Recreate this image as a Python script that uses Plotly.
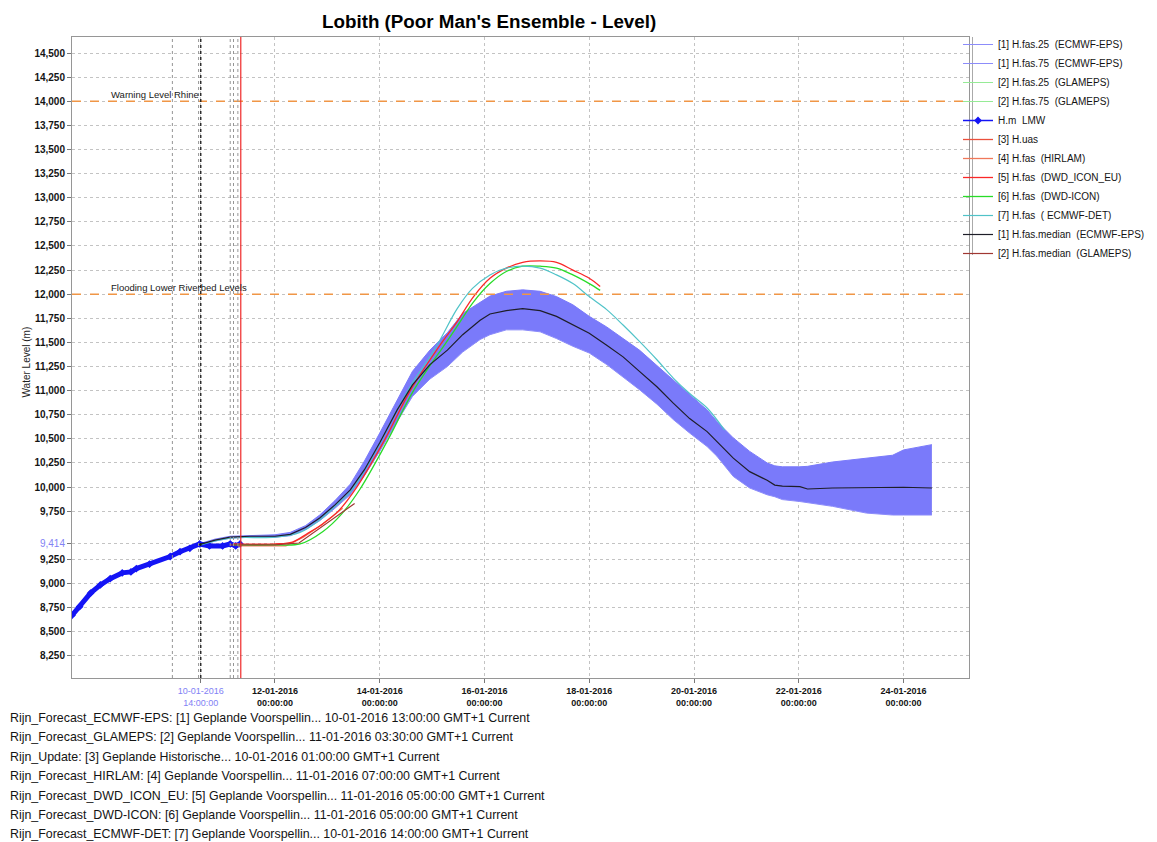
import plotly.graph_objects as go

# ---------------- data ----------------
obs_time = ["2016-01-08 03:00", "2016-01-08 06:30", "2016-01-08 11:30", "2016-01-08 16:00",
            "2016-01-08 20:30", "2016-01-09 02:00", "2016-01-09 06:00", "2016-01-09 08:30",
            "2016-01-09 14:30", "2016-01-10 00:00", "2016-01-10 04:30", "2016-01-10 09:00",
            "2016-01-10 13:30", "2016-01-10 18:00", "2016-01-11 00:00", "2016-01-11 03:30",
            "2016-01-11 06:00", "2016-01-11 08:00"]
obs_level = [8.67, 8.76, 8.90, 8.985, 9.05, 9.11, 9.12, 9.155, 9.20, 9.28, 9.33, 9.365,
             9.41, 9.39, 9.39, 9.41, 9.39, 9.41]

eps_time = ["2016-01-10 13:00", "2016-01-10 20:30", "2016-01-11 03:30", "2016-01-11 12:30",
            "2016-01-12 00:00", "2016-01-12 07:00", "2016-01-12 14:00", "2016-01-12 20:30",
            "2016-01-13 03:30", "2016-01-13 10:30", "2016-01-13 17:00", "2016-01-14 00:00",
            "2016-01-14 08:00", "2016-01-14 15:00", "2016-01-14 23:00", "2016-01-15 07:00",
            "2016-01-15 14:00", "2016-01-15 22:00", "2016-01-16 02:30", "2016-01-16 10:00",
            "2016-01-16 17:30", "2016-01-17 01:30", "2016-01-17 09:00", "2016-01-17 16:30",
            "2016-01-18 00:00", "2016-01-18 08:00", "2016-01-18 15:30", "2016-01-18 23:00",
            "2016-01-19 07:00", "2016-01-19 14:30", "2016-01-19 22:00", "2016-01-20 06:00",
            "2016-01-20 10:30", "2016-01-20 18:00", "2016-01-21 01:30", "2016-01-21 09:30",
            "2016-01-21 13:00", "2016-01-21 16:30", "2016-01-22 00:30", "2016-01-22 04:00",
            "2016-01-22 15:30", "2016-01-23 07:00", "2016-01-23 19:00", "2016-01-24 00:00",
            "2016-01-24 13:00"]
eps_median = [9.40, 9.45, 9.48, 9.49, 9.49, 9.51, 9.58, 9.68, 9.815, 9.97, 10.18, 10.46,
              10.80, 11.06, 11.27, 11.42, 11.58, 11.73, 11.795, 11.83, 11.85, 11.83, 11.77,
              11.68, 11.595, 11.47, 11.35, 11.20, 11.04, 10.87, 10.71, 10.575, 10.47, 10.30,
              10.16, 10.07, 10.02, 10.01, 10.005, 9.98, 9.99, 9.994, 9.998, 9.998, 9.99]
eps_p25 = [9.39, 9.44, 9.47, 9.48, 9.48, 9.495, 9.56, 9.65, 9.78, 9.92, 10.12, 10.37,
           10.68, 10.94, 11.12, 11.25, 11.40, 11.53, 11.58, 11.63, 11.63, 11.61, 11.54,
           11.46, 11.39, 11.27, 11.14, 11.01, 10.86, 10.70, 10.56, 10.42, 10.32, 10.11,
           9.99, 9.92, 9.90, 9.87, 9.85, 9.84, 9.80, 9.73, 9.71, 9.71, 9.71]
eps_p75 = [9.41, 9.46, 9.49, 9.50, 9.505, 9.53, 9.60, 9.71, 9.86, 10.03, 10.27, 10.56,
           10.90, 11.20, 11.42, 11.60, 11.80, 11.91, 11.98, 12.03, 12.045, 12.03, 11.975,
           11.89, 11.77, 11.66, 11.54, 11.42, 11.26, 11.11, 10.96, 10.80, 10.68, 10.51,
           10.37, 10.25, 10.22, 10.21, 10.21, 10.215, 10.26, 10.30, 10.33, 10.385, 10.44]

det_time = ["2016-01-10 14:00", "2016-01-11 03:30", "2016-01-12 00:00", "2016-01-12 11:30",
            "2016-01-12 20:30", "2016-01-13 03:30", "2016-01-13 10:30", "2016-01-13 17:00",
            "2016-01-14 00:00", "2016-01-14 08:00", "2016-01-14 15:00", "2016-01-14 23:00",
            "2016-01-15 03:30", "2016-01-15 11:30", "2016-01-15 18:30", "2016-01-16 02:30",
            "2016-01-16 10:00", "2016-01-16 17:30", "2016-01-17 01:30", "2016-01-17 09:00",
            "2016-01-17 16:30", "2016-01-18 00:00", "2016-01-18 08:00", "2016-01-18 15:30",
            "2016-01-18 23:00", "2016-01-19 07:00", "2016-01-19 14:30", "2016-01-19 22:00",
            "2016-01-20 06:00", "2016-01-20 14:00"]
det_level = [9.40, 9.47, 9.48, 9.53, 9.66, 9.80, 9.95, 10.17, 10.45, 10.80, 11.08, 11.35,
             11.52, 11.85, 12.06, 12.20, 12.27, 12.29, 12.27, 12.20, 12.11, 11.975, 11.84,
             11.68, 11.51, 11.32, 11.13, 10.97, 10.82, 10.59]

icon_eu_time = ["2016-01-11 05:00", "2016-01-12 00:00", "2016-01-12 08:00", "2016-01-12 15:00",
                "2016-01-12 22:00", "2016-01-13 05:00", "2016-01-13 13:30", "2016-01-14 02:30",
                "2016-01-14 14:00", "2016-01-15 04:30", "2016-01-15 11:00", "2016-01-15 19:00",
                "2016-01-16 02:30", "2016-01-16 10:00", "2016-01-16 17:30", "2016-01-17 01:30",
                "2016-01-17 09:00", "2016-01-17 16:30", "2016-01-18 00:00", "2016-01-18 05:00"]
icon_eu_level = [9.41, 9.41, 9.43, 9.52, 9.62, 9.75, 10.00, 10.50, 11.00, 11.50, 11.70,
                 11.975, 12.165, 12.27, 12.33, 12.345, 12.33, 12.25, 12.165, 12.08]

icon_time = ["2016-01-11 05:00", "2016-01-12 00:00", "2016-01-12 11:30", "2016-01-12 22:00",
             "2016-01-13 06:30", "2016-01-13 15:00", "2016-01-14 04:00", "2016-01-14 15:30",
             "2016-01-15 06:30", "2016-01-15 11:00", "2016-01-15 19:00", "2016-01-16 02:30",
             "2016-01-16 10:00", "2016-01-16 17:30", "2016-01-17 01:30", "2016-01-17 09:00",
             "2016-01-17 16:30", "2016-01-18 00:00", "2016-01-18 05:00"]
icon_level = [9.40, 9.40, 9.41, 9.54, 9.72, 9.98, 10.50, 11.00, 11.50, 11.65, 11.92, 12.11,
              12.235, 12.29, 12.29, 12.27, 12.20, 12.11, 12.04]

hirlam_time = ["2016-01-11 07:00", "2016-01-12 00:00", "2016-01-12 05:00", "2016-01-12 13:00",
               "2016-01-12 22:00", "2016-01-13 07:00"]
hirlam_level = [9.39, 9.39, 9.39, 9.48, 9.62, 9.78]

glam_med_time = ["2016-01-11 03:30", "2016-01-12 00:00", "2016-01-12 11:00", "2016-01-12 22:00",
                 "2016-01-13 05:30", "2016-01-13 12:30"]
glam_med_level = [9.40, 9.40, 9.42, 9.60, 9.72, 9.83]

# y ticks: the 9,500 label is replaced by the last observed value 9,414
y_tick_vals = [8.25, 8.5, 8.75, 9.0, 9.25, 9.414, 9.75, 10.0, 10.25, 10.5, 10.75, 11.0, 11.25,
               11.5, 11.75, 12.0, 12.25, 12.5, 12.75, 13.0, 13.25, 13.5, 13.75, 14.0, 14.25, 14.5]
last_obs_value = 9.414
x_tick_vals = ["2016-01-10 14:00", "2016-01-12", "2016-01-14", "2016-01-16", "2016-01-18",
               "2016-01-20", "2016-01-22", "2016-01-24"]
x_tick_text = ["10-01-2016<br>14:00:00", "12-01-2016<br>00:00:00", "14-01-2016<br>00:00:00",
               "16-01-2016<br>00:00:00", "18-01-2016<br>00:00:00", "20-01-2016<br>00:00:00",
               "22-01-2016<br>00:00:00", "24-01-2016<br>00:00:00"]

threshold_levels = [14.0, 12.0]
threshold_names = ["Warning Level Rhine", "Flooding Lower Riverbed Levels"]

grey_forecast_lines = ["2016-01-10 01:00", "2016-01-10 13:00", "2016-01-11 03:30",
                       "2016-01-11 05:00", "2016-01-11 07:00"]
black_forecast_line = "2016-01-10 14:00"
now_line = "2016-01-11 08:20"

footer_lines = [
    "Rijn_Forecast_ECMWF-EPS: [1] Geplande Voorspellin... 10-01-2016 13:00:00 GMT+1 Current",
    "Rijn_Forecast_GLAMEPS: [2] Geplande Voorspellin... 11-01-2016 03:30:00 GMT+1 Current",
    "Rijn_Update: [3] Geplande Historische... 10-01-2016 01:00:00 GMT+1 Current",
    "Rijn_Forecast_HIRLAM: [4] Geplande Voorspellin... 11-01-2016 07:00:00 GMT+1 Current",
    "Rijn_Forecast_DWD_ICON_EU: [5] Geplande Voorspellin... 11-01-2016 05:00:00 GMT+1 Current",
    "Rijn_Forecast_DWD-ICON: [6] Geplande Voorspellin... 11-01-2016 05:00:00 GMT+1 Current",
    "Rijn_Forecast_ECMWF-DET: [7] Geplande Voorspellin... 10-01-2016 14:00:00 GMT+1 Current",
]

# ---------------- layout helpers ----------------
OFF = 8                      # page body margin of the browser
W, H = 1157 - OFF, 842 - OFF
L, R, T, B = 72, 969, 37, 678   # plot area in screenshot pixels
def px_x(x):
    return (x - L) / (R - L)
def px_y(y):
    return (B - y) / (B - T)

FONT = "Liberation Sans"
BLUE_LBL = "rgb(130,130,245)"
OBS_BLUE = "rgb(20,20,245)"
fig = go.Figure()

# ECMWF-EPS band
fig.add_trace(go.Scatter(x=eps_time, y=eps_p25, mode="lines", name="[1] H.fas.25  (ECMWF-EPS)",
                         line=dict(color="rgb(140,140,250)", width=1)))
fig.add_trace(go.Scatter(x=eps_time, y=eps_p75, mode="lines", showlegend=False,
                         line=dict(color="rgb(122,122,250)", width=1),
                         fill="tonexty", fillcolor="rgb(122,122,250)"))
fig.add_trace(go.Scatter(x=[None], y=[None], mode="lines", name="[1] H.fas.75  (ECMWF-EPS)",
                         line=dict(color="rgb(140,140,250)", width=1)))
fig.add_trace(go.Scatter(x=[None], y=[None], mode="lines", name="[2] H.fas.25  (GLAMEPS)",
                         line=dict(color="rgb(150,235,150)", width=1)))
fig.add_trace(go.Scatter(x=[None], y=[None], mode="lines", name="[2] H.fas.75  (GLAMEPS)",
                         line=dict(color="rgb(150,235,150)", width=1)))
fig.add_trace(go.Scatter(x=obs_time, y=obs_level, mode="lines+markers", showlegend=False,
                         line=dict(color=OBS_BLUE, width=5),
                         marker=dict(symbol="diamond", size=6, color=OBS_BLUE)))
fig.add_trace(go.Scatter(x=[None], y=[None], mode="lines+markers", name="H.m  LMW",
                         line=dict(color=OBS_BLUE, width=1.5),
                         marker=dict(symbol="diamond", size=6, color=OBS_BLUE)))
fig.add_trace(go.Scatter(x=[None], y=[None], mode="lines", name="[3] H.uas",
                         line=dict(color="rgb(235,80,60)", width=1.3)))
fig.add_trace(go.Scatter(x=hirlam_time, y=hirlam_level, mode="lines", name="[4] H.fas  (HIRLAM)",
                         line=dict(color="rgb(240,120,90)", width=1.3)))
fig.add_trace(go.Scatter(x=icon_eu_time, y=icon_eu_level, mode="lines", name="[5] H.fas  (DWD_ICON_EU)",
                         line=dict(color="rgb(250,40,40)", width=1.3, shape="spline")))
fig.add_trace(go.Scatter(x=icon_time, y=icon_level, mode="lines", name="[6] H.fas  (DWD-ICON)",
                         line=dict(color="rgb(40,220,40)", width=1.3, shape="spline")))
fig.add_trace(go.Scatter(x=det_time, y=det_level, mode="lines", name="[7] H.fas  ( ECMWF-DET)",
                         line=dict(color="rgb(80,195,200)", width=1.2, shape="spline")))
fig.add_trace(go.Scatter(x=eps_time, y=eps_median, mode="lines", name="[1] H.fas.median  (ECMWF-EPS)",
                         line=dict(color="rgb(30,30,40)", width=1.2)))
fig.add_trace(go.Scatter(x=glam_med_time, y=glam_med_level, mode="lines", name="[2] H.fas.median  (GLAMEPS)",
                         line=dict(color="rgb(160,55,50)", width=1.2)))

shapes = []
for lv in threshold_levels:
    shapes.append(dict(type="line", xref="paper", x0=0, x1=1, yref="y", y0=lv, y1=lv,
                       line=dict(color="rgb(240,150,70)", width=1.5, dash="dash")))
for t in grey_forecast_lines:
    shapes.append(dict(type="line", xref="x", x0=t, x1=t, yref="paper", y0=0, y1=1,
                       line=dict(color="rgb(150,150,150)", width=1, dash="dot")))
shapes.append(dict(type="line", xref="x", x0=black_forecast_line, x1=black_forecast_line,
                   yref="paper", y0=0, y1=1, line=dict(color="rgb(20,20,20)", width=1.3, dash="dot")))
shapes.append(dict(type="line", xref="x", x0=now_line, x1=now_line, yref="paper", y0=0, y1=1,
                   line=dict(color="rgb(240,40,40)", width=1.2)))
# legend panel border
shapes.append(dict(type="line", xref="paper", x0=px_x(972.5), x1=px_x(972.5), yref="paper",
                   y0=px_y(255), y1=1, line=dict(color="rgb(170,170,170)", width=1)))

annotations = []
for lv, nm in zip(threshold_levels, threshold_names):
    annotations.append(dict(xref="paper", x=px_x(109), yref="y", y=lv, text=nm, showarrow=False,
                            xanchor="left", yanchor="bottom", yshift=-1,
                            font=dict(family=FONT, size=9.5, color="rgb(25,25,25)")))
annotations.append(dict(xref="paper", x=px_x(18), yref="paper", y=px_y(362),
                        text="Water Level (m)", showarrow=False, textangle=-90,
                        font=dict(family=FONT, size=10, color="rgb(30,30,30)")))
annotations.append(dict(xref="paper", x=px_x(489), yref="paper", y=px_y(21),
                        text="<b>Lobith (Poor Man's Ensemble - Level)</b>", showarrow=False,
                        xanchor="center", yanchor="middle",
                        font=dict(family=FONT, size=18.8, color="black")))
for i, line in enumerate(footer_lines):
    annotations.append(dict(xref="paper", x=px_x(8), yref="paper", y=px_y(718 + i * 19.4),
                            text=line, showarrow=False, xanchor="left", yanchor="middle",
                            font=dict(family=FONT, size=12.4, color="rgb(20,20,20)")))

def y_label(v):
    s = f"{v:.3f}".replace(".", ",")
    if v == last_obs_value:
        return f"<span style='color:{BLUE_LBL}'>{s}</span>"
    return f"<b>{s}</b>"

def x_label(t, txt):
    if t == black_forecast_line:
        return f"<span style='color:{BLUE_LBL}'>{txt}</span>"
    return "<b>" + txt.replace("<br>", "</b><br><b>") + "</b>"

GRID = "rgb(195,195,195)"
fig.update_layout(
    width=W, height=H,
    margin=dict(l=L - OFF, r=W - (R - OFF), t=T - OFF, b=H - (B - OFF), autoexpand=False),
    paper_bgcolor="white", plot_bgcolor="white",
    font=dict(family=FONT, color="rgb(20,20,20)"),
    showlegend=True,
    legend=dict(x=px_x(958), y=px_y(30), xanchor="left", yanchor="top",
                font=dict(family=FONT, size=10, color="rgb(20,20,20)"),
                bgcolor="rgba(0,0,0,0)", itemwidth=30, tracegroupgap=0,
                traceorder="normal"),
    shapes=shapes, annotations=annotations,
    xaxis=dict(type="date", range=["2016-01-08 03:00", "2016-01-25 06:00"],
               tickvals=x_tick_vals,
               ticktext=[x_label(t, s) for t, s in zip(x_tick_vals, x_tick_text)], tickangle=0,
               showgrid=True, gridcolor=GRID, griddash="dot", gridwidth=1,
               showline=True, linecolor="rgb(150,150,150)", mirror=True,
               ticks="outside", ticklen=4, tickcolor="rgb(120,120,120)",
               tickfont=dict(family=FONT, size=9, color="rgb(20,20,20)"),
               zeroline=False),
    yaxis=dict(range=[8.02, 14.667], tickvals=y_tick_vals,
               ticktext=[y_label(v) for v in y_tick_vals],
               showgrid=True, gridcolor=GRID, griddash="dot", gridwidth=1,
               showline=True, linecolor="rgb(150,150,150)", mirror=True,
               ticks="outside", ticklen=4, tickcolor="rgb(120,120,120)",
               tickfont=dict(family=FONT, size=10, color="rgb(20,20,20)"),
               zeroline=False),
)

fig.write_html("out.html")
